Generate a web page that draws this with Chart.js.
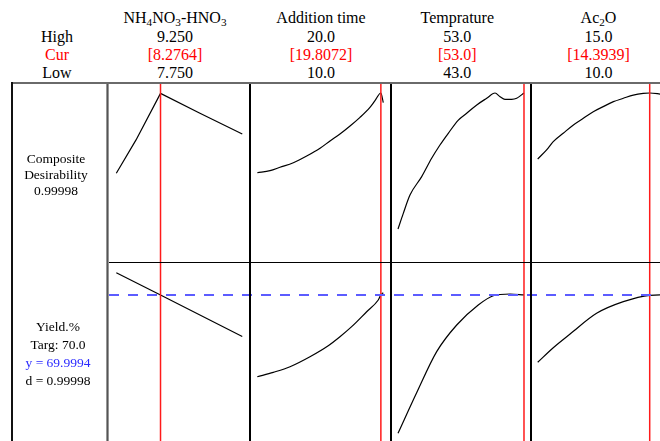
<!DOCTYPE html>
<html>
<head>
<meta charset="utf-8">
<script src="https://cdn.jsdelivr.net/npm/chart.js@4.4.1/dist/chart.umd.min.js"></script>
<style>
  body { margin: 0; background: #fff; width: 660px; height: 441px; overflow: hidden; position: relative;
         font-family: "Liberation Serif", "Times New Roman", serif; }
  .t { position: absolute; text-align: center; white-space: nowrap; color: #000; }
  .t sub { font-size: 70%; vertical-align: -3px; line-height: 0; }
  canvas { position: absolute; }
  .ln { position: absolute; }
</style>
</head>
<body>
<script>
// factor header
const factorNames = ['NH<sub>4</sub>NO<sub>3</sub>-HNO<sub>3</sub>', 'Addition time', 'Temprature', 'Ac<sub>2</sub>O'];
const highLabels = ['9.250', '20.0', '53.0', '15.0'];
const curLabels = ['[8.2764]', '[19.8072]', '[53.0]', '[14.3939]'];
const lowLabels = ['7.750', '10.0', '43.0', '10.0'];
const curValues = [8.2764, 19.8072, 53.0, 14.3939];

const desirabilityLabels = ['Composite', 'Desirability', '0.99998'];
const yieldLabels = ['Yield.%', 'Targ: 70.0', 'y = 69.9994', 'd = 0.99998'];
const yieldTarget = 70.0;

// composite desirability curves (top row)
const nhDesX = [7.75, 7.985, 8.2764, 8.746, 9.25];
const nhDesY = [0.528, 0.724, 0.998, 0.881, 0.759];
const timeDesX = [10.0, 11.01, 11.80, 12.86, 13.92, 14.98, 15.77, 16.56, 17.36, 18.15, 18.94, 19.34, 19.8072, 20.0];
const timeDesY = [0.531, 0.543, 0.563, 0.590, 0.629, 0.675, 0.718, 0.759, 0.806, 0.857, 0.916, 0.955, 1.0, 0.943];
const tempDesX = [43.0, 43.42, 43.95, 44.88, 45.67, 46.33, 46.99, 47.79, 48.45, 49.25, 50.04, 50.70, 51.10, 51.49, 52.02, 52.42, 53.0];
const tempDesY = [0.200, 0.292, 0.400, 0.508, 0.616, 0.694, 0.763, 0.841, 0.881, 0.930, 0.969, 1.0, 0.978, 0.963, 0.963, 0.969, 1.0];
const acDesX = [10.0, 10.35, 10.61, 11.0, 11.40, 11.79, 12.18, 12.57, 12.97, 13.36, 13.75, 14.14, 14.3939, 14.80, 15.0];
const acDesY = [0.612, 0.665, 0.714, 0.763, 0.812, 0.851, 0.890, 0.920, 0.949, 0.969, 0.988, 0.998, 1.0, 0.994, 0.990];

// yield curves (bottom row)
const nhYieldX = [7.75, 8.2764, 9.25];
const nhYieldY = [73.48, 70.0, 63.5];
const timeYieldX = [10.0, 11.27, 12.6, 14.18, 15.63, 16.56, 17.49, 18.68, 19.6, 19.8072, 20.0];
const timeYieldY = [57.2, 57.9, 58.78, 60.34, 62.06, 63.47, 65.04, 67.38, 69.21, 70.0, 70.35];
const tempYieldX = [43.0, 44.48, 46.07, 47.66, 49.37, 50.56, 51.89, 53.0];
const tempYieldY = [48.36, 54.7, 61.13, 65.30, 68.43, 69.88, 70.15, 70.0];
const acYieldX = [10.0, 10.61, 11.27, 12.31, 13.36, 14.3939, 14.80, 15.0];
const acYieldY = [59.47, 61.75, 63.89, 67.13, 68.95, 69.95, 70.0, 70.0];

// ---- layout ----
const colLeft = [109, 250, 391, 531];
const colWidth = [141, 141, 140, 129];
const xRanges = [[7.663, 9.342], [9.421, 20.611], [42.444, 53.556], [9.737, 14.798]];
const topRow = { top: 84, height: 179, min: 0, max: 1.053 };
const botRow = { top: 263, height: 179, min: 47, max: 75 };

function text(html, cx, baseline, size, color) {
    const L = size * 1.15;
    const d = document.createElement('div');
    d.className = 't';
    d.innerHTML = html;
    d.style.fontSize = size + 'px';
    d.style.lineHeight = L + 'px';
    d.style.left = (cx - 100) + 'px';
    d.style.width = '200px';
    d.style.top = (baseline - ((L - 1.107 * size) / 2 + 0.891 * size)) + 'px';
    if (color) d.style.color = color;
    document.body.appendChild(d);
}

function line(left, top, width, height, bg) {
    const d = document.createElement('div');
    d.className = 'ln';
    Object.assign(d.style, { left: left + 'px', top: top + 'px', width: width + 'px', height: height + 'px', background: bg });
    document.body.appendChild(d);
}

function toPoints(xs, ys) {
    return xs.map((x, i) => ({ x, y: ys[i] }));
}

function panel(col, row, xs, ys, smooth, target) {
    const canvas = document.createElement('canvas');
    canvas.width = colWidth[col];
    canvas.height = row.height;
    canvas.style.left = colLeft[col] + 'px';
    canvas.style.top = row.top + 'px';
    document.body.appendChild(canvas);

    const [xMin, xMax] = xRanges[col];
    const datasets = [];
    if (target !== undefined) {
        datasets.push({
            data: [{ x: xMin, y: target }, { x: xMax, y: target }],
            borderColor: '#5c5cff',
            borderWidth: 2,
            borderDash: [10, 9],
            borderDashOffset: (colLeft[col] - colLeft[0]) % 19,
            pointRadius: 0
        });
    }
    datasets.push({
        data: [{ x: curValues[col], y: row.min }, { x: curValues[col], y: row.max }],
        borderColor: '#ff1a1a',
        borderWidth: 1.5,
        pointRadius: 0
    });
    datasets.push({
        data: toPoints(xs, ys),
        borderColor: '#000',
        borderWidth: 1.2,
        pointRadius: 0,
        cubicInterpolationMode: smooth ? 'monotone' : 'default',
        tension: 0
    });

    new Chart(canvas, {
        type: 'line',
        data: { datasets },
        options: {
            responsive: false,
            animation: false,
            devicePixelRatio: 1,
            layout: { padding: 0 },
            plugins: { legend: { display: false }, tooltip: { enabled: false } },
            scales: {
                x: { type: 'linear', display: false, min: xMin, max: xMax },
                y: { type: 'linear', display: false, min: row.min, max: row.max }
            }
        }
    });
}

// header text
const colCenter = [175, 321, 457.3, 598.5];
factorNames.forEach((n, i) => text(n, colCenter[i], 23.3, 16));
text('High', 57, 42.7, 16);
text('Cur', 57, 61, 16, '#ff0000');
text('Low', 57, 79, 16);
highLabels.forEach((v, i) => text(v, colCenter[i], 42.7, 16));
curLabels.forEach((v, i) => text(v, colCenter[i], 61, 16, '#ff0000'));
lowLabels.forEach((v, i) => text(v, colCenter[i], 79, 16));

// charts
panel(0, topRow, nhDesX, nhDesY, false);
panel(1, topRow, timeDesX, timeDesY, true);
panel(2, topRow, tempDesX, tempDesY, true);
panel(3, topRow, acDesX, acDesY, true);
panel(0, botRow, nhYieldX, nhYieldY, false, yieldTarget);
panel(1, botRow, timeYieldX, timeYieldY, true, yieldTarget);
panel(2, botRow, tempYieldX, tempYieldY, true, yieldTarget);
panel(3, botRow, acYieldX, acYieldY, true, yieldTarget);

// frame lines
line(11, 82, 649, 2, '#6a6a6a');
line(11, 82, 2, 359, '#111');
line(106, 84, 3, 357, 'linear-gradient(to right, #b8b8b8, #555, #b8b8b8)');
line(109, 261.8, 551, 1.5, '#000');
line(249, 84, 2, 357, '#000');
line(390, 84, 2, 357, '#000');
line(530, 84, 2, 357, '#000');

// row labels
desirabilityLabels.forEach((s, i) => text(s, 56, 163.3 + i * 16, 13.5));
yieldLabels.forEach((s, i) => text(s, 58, 331.7 + i * 17.8, 13.5, i === 2 ? '#2a2aff' : '#000'));
</script>
</body>
</html>
